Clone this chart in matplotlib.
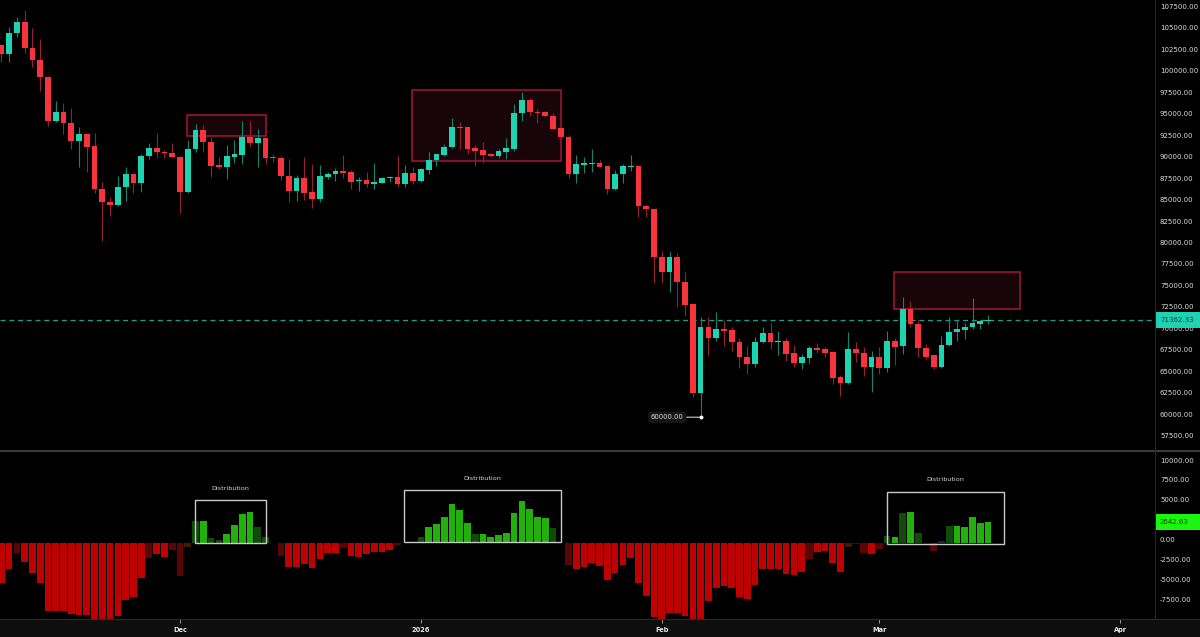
import numpy as np
import pandas as pd
import matplotlib
matplotlib.use("Agg")
import matplotlib.pyplot as plt
import matplotlib.dates as mdates
from matplotlib.patches import Rectangle
from matplotlib.lines import Line2D
from matplotlib.transforms import offset_copy, blended_transform_factory

# ================= data (daily candles) =================
start_date = "2025-11-08"

opens = [103350, 102270, 104710, 105990, 103040, 101600, 99660, 94530, 95580, 94230,
         92170, 92950, 91590, 86580, 85100, 84720, 86780, 88330, 87310, 90460,
         91320, 90920, 90770, 90340, 86200, 91240, 93450, 92020, 89370, 89180,
         90340, 90540, 92670, 91970, 92480, 90340, 90230, 88130, 86380, 87830,
         86200, 85410, 88010, 88290, 88710, 88590, 87480, 87660, 87160, 87310,
         87830, 87940, 87160, 88480, 87550, 88790, 89960, 90570, 91440, 93840,
         93770, 91350, 91120, 90660, 90420, 90920, 91200, 95400, 96950, 95580,
         95510, 95120, 93650, 92600, 88330, 89370, 89460, 89640, 89260, 86580,
         88330, 89180, 89260, 84630, 84220, 78690, 76880, 78690, 75710, 73190,
         62850, 70540, 69190, 70270, 70120, 68790, 67050, 66200, 68720, 69770,
         68760, 68910, 67440, 66350, 66930, 68030, 67980, 67630, 64650, 64020,
         67940, 67510, 65810, 66980, 65700, 68880, 68290, 72570, 70820, 68030,
         67250, 65810, 68410, 69890, 70160, 70470, 70860, 71210]

highs = [103500, 105410, 106650, 107430, 105300, 104010, 99740, 96830, 96630, 95980,
         93800, 93000, 93140, 87430, 85610, 88090, 89180, 88480, 90660, 91900,
         93070, 91120, 91970, 90400, 92290, 94120, 94030, 92670, 90270, 91700,
         92290, 94530, 94500, 93530, 92550, 90660, 90420, 90040, 88210, 90270,
         89490, 89370, 88560, 89030, 90540, 88790, 88010, 88520, 89570, 88010,
         88090, 90420, 89370, 89110, 89030, 90920, 90700, 91820, 94810, 94420,
         93800, 91670, 92050, 90810, 91200, 92480, 96480, 97910, 97140, 95860,
         95630, 95470, 93840, 92870, 90540, 90270, 91200, 89960, 89300, 88790,
         89490, 90540, 89300, 84700, 84300, 79360, 79280, 79160, 76880, 73270,
         71710, 71640, 72220, 71320, 70470, 69190, 68290, 69380, 70470, 70940,
         70040, 69190, 68410, 67330, 68290, 68610, 68210, 67700, 64920, 69960,
         68790, 68140, 67710, 68140, 70080, 69190, 73970, 73540, 71320, 68530,
         67300, 69460, 71710, 71320, 70940, 73920, 71320, 71900]

lows = [101410, 101410, 104250, 102450, 100820, 97990, 93950, 94400, 92990, 91200,
        89180, 88590, 86080, 80560, 83470, 84600, 85220, 86080, 86200, 90070,
        90160, 90160, 90270, 83750, 86100, 90920, 90850, 88010, 88870, 87710,
        89570, 89490, 91510, 89180, 89460, 89760, 87630, 85100, 85220, 85300,
        84400, 85100, 87740, 87550, 87830, 86580, 86380, 86850, 86580, 87240,
        87430, 86780, 86850, 87160, 87430, 88330, 89260, 90420, 91320, 91200,
        90660, 89290, 89640, 90270, 90160, 90040, 91040, 94530, 95080, 94300,
        95000, 93530, 92480, 87830, 87240, 88480, 88590, 89100, 86000, 86460,
        87240, 88710, 83350, 83350, 75670, 75670, 74620, 72870, 71820, 62320,
        60000, 67250, 68910, 68290, 67750, 65700, 65030, 65810, 68610, 67910,
        67250, 66580, 65810, 65580, 66280, 67440, 66970, 63870, 62500, 63870,
        66470, 64800, 62970, 65030, 65230, 66080, 67360, 70540, 67050, 66780,
        65580, 65750, 68290, 68910, 69110, 70270, 70240, 70820]

closes = [102270, 104710, 105990, 103040, 101600, 99660, 94530, 95580, 94230, 92170,
          92950, 91510, 86580, 85100, 84720, 86780, 88330, 87310, 90460, 91320,
          90850, 90740, 90310, 86200, 91240, 93450, 92020, 89290, 89180, 90420,
          90660, 92670, 91970, 92480, 90230, 90160, 88130, 86380, 87830, 86150,
          85410, 88090, 88330, 88710, 88480, 87430, 87660, 87160, 87360, 87860,
          87980, 87160, 88480, 87550, 88870, 89960, 90660, 91510, 93840, 93680,
          91240, 91010, 90540, 90420, 91040, 91320, 95470, 96950, 95510, 95470,
          95080, 93570, 92600, 88330, 89490, 89570, 89610, 89180, 86580, 88330,
          89260, 89290, 84600, 84220, 78690, 76880, 78690, 75710, 73070, 62850,
          70540, 69190, 70270, 70040, 68790, 66980, 66200, 68790, 69770, 68720,
          68880, 67360, 66350, 66980, 68030, 67830, 67510, 64600, 64020, 67940,
          67440, 65810, 66980, 65700, 68880, 68210, 72570, 70820, 68030, 66970,
          65810, 68410, 69960, 70240, 70540, 70940, 71210, 71362.33]

# oscillator histogram (lower pane), one bar per candle
hist = [-5140, -3340, -1280, -2420, -3800, -5140, -8590, -8590, -8660, -9000,
        -9090, -9090, -9590, -9590, -9590, -9220, -7240, -6820, -4510, -1910,
        -1450, -1790, -940, -4180, -600, 2750, 2750, 530, 320, 1070,
        2170, 3550, 3840, 1910, 690, 0, -1660, -3120, -3120, -2740,
        -3250, -2080, -1280, -1360, -730, -1700, -1790, -1450, -1160, -1230,
        -940, -320, 0, 0, 660, 1910, 2330, 3250, 4850, 4090,
        2490, 1030, 1030, 730, 940, 1230, 3680, 5260, 4180, 3250,
        3120, 1790, 0, -2830, -3340, -3050, -2620, -2920, -4720, -3800,
        -2870, -1910, -5140, -6700, -9340, -9590, -8910, -8910, -9250, -9590,
        -9590, -7330, -5690, -5480, -5770, -6900, -7110, -5350, -3340, -3340,
        -3370, -3970, -4090, -3680, -2080, -1230, -1030, -2620, -3680, -530,
        -230, -1280, -1490, -820, 820, 730, 3680, 3800, 1160, 0,
        -1030, 150, 2120, 2080, 1990, 3250, 2420, 2642.63]
# R/G = strong red/green, r/g = faded, o/b = neutral tints
hist_shade = ("RRrRRRRRRR" "RRRRRRRRRr" "RRrrogGggG" "GGGgggrRRR" "RRRRrRRRRR"
              "RrrggGGGGG" "GgGGGGGGGG" "GggrRRRRRR" "RRRRRRRRRR" "RRRRRRRRRR"
              "RRRRrRRRRo" "rrRrgGgGgg" "rbgGGGGG")

last_price = 71362.33
last_hist = 2642.63
swing_low = 60000.0
price_ticks = list(range(57500, 107501, 2500))
hist_ticks = [10000, 7500, 5000, 0, -2500, -5000, -7500]
month_labels = ["Dec", "2026", "Feb", "Mar", "Apr"]
month_dates = ["2025-12-01", "2026-01-01", "2026-02-01", "2026-03-01", "2026-04-01"]

# marked zones: (day offset left, day offset right, low, high)
supply_zones = [(23.86, 34.0, 92750, 95200),
                (52.9, 72.0, 89875, 98145),
                (114.93, 131.07, 72570, 76950)]
dist_boxes = [(24.9, 34.0, 0, 5350),
              (51.87, 72.0, 100, 6570),
              (113.95, 129.0, -150, 6400)]

# ================= figure =================
W, H = 1200, 637
fig = plt.figure(figsize=(W / 100, H / 100), dpi=100, facecolor="black")


def px_axes(left, top, right, bottom):
    return fig.add_axes([left / W, 1 - bottom / H, (right - left) / W, (bottom - top) / H])


ax = px_axes(0, 0, 1154, 450)
axh = px_axes(0, 452, 1154, 619)

o = np.array(opens, float)
h = np.array(highs, float)
l = np.array(lows, float)
c = np.array(closes, float)
n = len(o)
x0 = mdates.date2num(pd.Timestamp(start_date))
xs = x0 + np.arange(n)

UP, DN = "#1dd3b0", "#f7343c"
UP_WICK, DN_WICK = "#12846f", "#98202a"
up = c >= o

for a in (ax, axh):
    a.set_facecolor("black")
    for s in a.spines.values():
        s.set_visible(False)
    a.set_xlim(x0 - 0.17, x0 + 148.35)
    a.set_yticks([])

ax.set_ylim(56180, 108592)
axh.set_ylim(-9631, 11394)
ax.set_xticks([])

# candles
ax.vlines(xs, l, h, colors=np.where(up, UP_WICK, DN_WICK), lw=0.8, zorder=2)
ax.bar(xs, np.maximum(np.abs(c - o), 130), bottom=np.minimum(o, c), width=0.74,
       color=np.where(up, UP, DN), linewidth=0, zorder=3)

for left, right, lo, hi in supply_zones:
    ax.add_patch(Rectangle((x0 + left, lo), right - left, hi - lo, facecolor="#180509",
                           edgecolor="#a3173b", lw=1.1, zorder=1))

ax.axhline(last_price, color="#17a089", lw=0.9, dashes=(4, 3), zorder=1.5)

# swing low marker
x_low = xs[int(np.argmin(l))]
ax.annotate(f"{swing_low:.2f}", xy=(x_low, swing_low), xytext=(-17, 0),
            textcoords="offset pixels", ha="right", va="center", fontsize=4.9,
            color="#e0e0e0",
            bbox=dict(boxstyle="round,pad=0.4", fc="#161616", ec="none"),
            arrowprops=dict(arrowstyle="-", color="#cfcfcf", lw=0.8, shrinkA=0, shrinkB=0),
            zorder=6)
ax.plot(x_low, swing_low, "o", ms=1.8, color="white", zorder=7)

# histogram
shade_colors = {"R": "#be0000", "r": "#5c0505", "G": "#22b00c", "g": "#0f4c0a",
                "o": "#3d1c02", "b": "#0c2e38"}
axh.bar(xs, hist, width=0.86, color=[shade_colors[s] for s in hist_shade],
        linewidth=0, zorder=2)

for left, right, lo, hi in dist_boxes:
    axh.add_patch(Rectangle((x0 + left, lo), right - left, hi - lo, facecolor="none",
                            edgecolor="#c9c9c9", lw=1.0, zorder=3))
    axh.text(x0 + (left + right) / 2, hi, "Distribution",
             transform=offset_copy(axh.transData, fig=fig, y=12, units="dots"),
             ha="center", va="center", fontsize=4.6, color="#d4d4d4")

# right-hand scales
lab_kw = dict(ha="left", va="center", fontsize=5.0, color="#dcdcdc")
for a, ticks in ((ax, price_ticks), (axh, hist_ticks)):
    tr = offset_copy(a.get_yaxis_transform(), fig=fig, x=6, y=2.5, units="dots")
    for v in ticks:
        a.text(1.0, v, f"{v:.2f}", transform=tr, clip_on=False, **lab_kw)

for a, val, fc, tc, per_px in ((ax, last_price, "#1fd2b4", "#0b3d34", 116.47),
                               (axh, last_hist, "#1cf510", "#0b3f0b", 125.9)):
    tr = blended_transform_factory(fig.transFigure, a.transData)
    a.add_patch(Rectangle((1155 / W, val - 8 * per_px), 45 / W, 16 * per_px,
                          transform=tr, facecolor=fc, edgecolor="none",
                          clip_on=False, zorder=5))
    a.text(1160 / W, val, f"{val:.2f}", transform=tr, ha="left", va="center",
           fontsize=5.0, color=tc, clip_on=False, zorder=6)

# time axis
axh.set_xticks([mdates.date2num(pd.Timestamp(d)) for d in month_dates])
axh.set_xticklabels(month_labels, fontweight="bold")
axh.tick_params(axis="x", length=3, width=0.7, color="#a0a0a0", labelcolor="#e8e8e8",
                labelsize=4.8, pad=2.5)

# frame pieces: bottom band, pane separator, price-scale border
fig.add_artist(Rectangle((0, 0), 1, 18 / H, transform=fig.transFigure,
                         facecolor="#0e0e0e", edgecolor="none", zorder=-1))
fig.add_artist(Line2D([0, 1], [18.5 / H] * 2, transform=fig.transFigure,
                      color="#2a2a2a", lw=0.8))
fig.add_artist(Line2D([0, 1], [1 - 451 / H] * 2, transform=fig.transFigure,
                      color="#3b3b3b", lw=1.5))
fig.add_artist(Line2D([1154.5 / W] * 2, [18.5 / H, 1], transform=fig.transFigure,
                      color="#262626", lw=0.8))

fig.savefig("out.png", dpi=100, facecolor="black")
